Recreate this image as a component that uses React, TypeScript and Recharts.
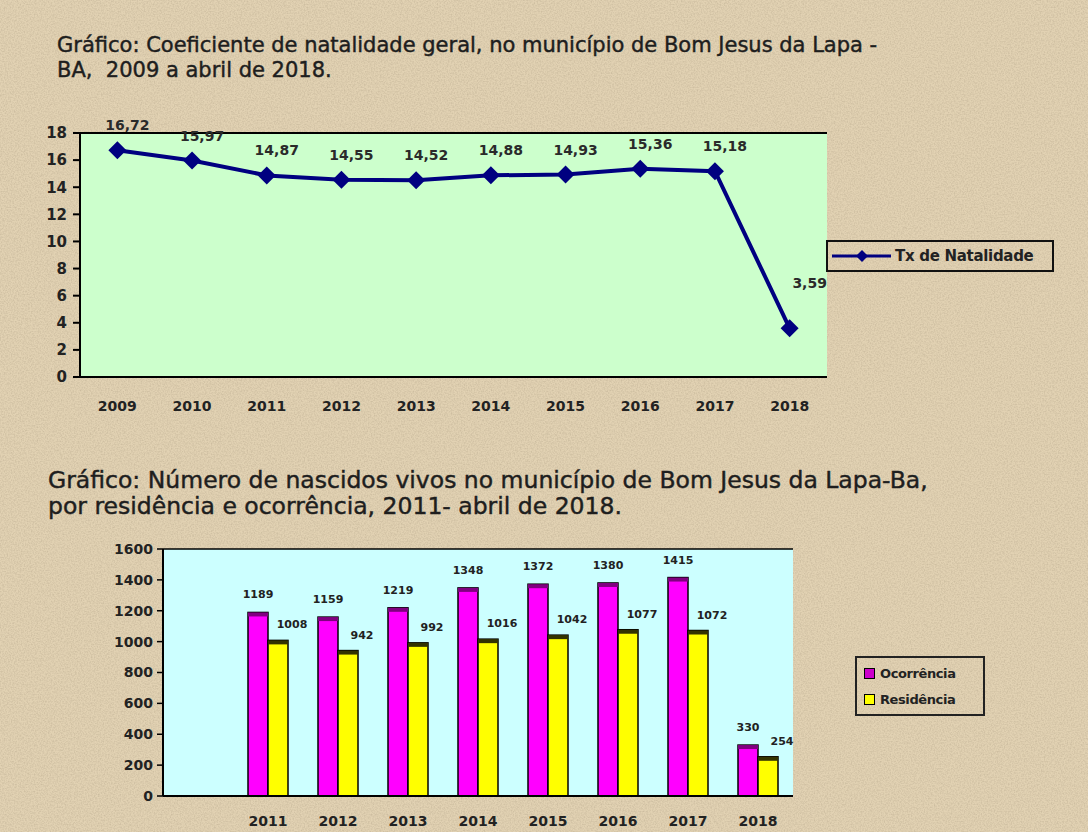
import React from "react";
import {
  Bar,
  BarChart,
  CartesianGrid,
  LabelList,
  Line,
  LineChart,
  XAxis,
  YAxis,
} from "recharts";

// Coeficiente de natalidade (top chart)
const YEARS_TOP = ["2009", "2010", "2011", "2012", "2013", "2014", "2015", "2016", "2017", "2018"];
const TX_NATALIDADE = [16.72, 15.97, 14.87, 14.55, 14.52, 14.88, 14.93, 15.36, 15.18, 3.59];
const TOP_TICKS = [0, 2, 4, 6, 8, 10, 12, 14, 16, 18];

// Nascidos vivos (bottom chart) - first slot is an empty category, as in the original
const YEARS_BOTTOM = ["", "2011", "2012", "2013", "2014", "2015", "2016", "2017", "2018"];
const OCORRENCIA = [null, 1189, 1159, 1219, 1348, 1372, 1380, 1415, 330];
const RESIDENCIA = [null, 1008, 942, 992, 1016, 1042, 1077, 1072, 254];
const BOTTOM_TICKS = [0, 200, 400, 600, 800, 1000, 1200, 1400, 1600];

const FONT = "'DejaVu Sans', Verdana, sans-serif";
const NAVY = "#000080";

const topData = YEARS_TOP.map((year, i) => ({ year, tx: TX_NATALIDADE[i] }));
const bottomData = YEARS_BOTTOM.map((year, i) => ({
  year,
  ocorrencia: OCORRENCIA[i],
  residencia: RESIDENCIA[i],
}));

const fmtComma = (v: number) => v.toFixed(2).replace(".", ",");

function Diamond(props: any) {
  const { cx, cy, index } = props;
  if (cx == null || cy == null) return null;
  const r = 9;
  return (
    <path
      key={`d-${index}`}
      d={`M${cx},${cy - r}L${cx + r},${cy}L${cx},${cy + r}L${cx - r},${cy}Z`}
      fill={NAVY}
    />
  );
}

function lineLabel(props: any) {
  const { x, y, value, index } = props;
  const last = index === TX_NATALIDADE.length - 1;
  return (
    <text
      x={x + (last ? 20 : 10)}
      y={y - (last ? 44 : 24)}
      textAnchor="middle"
      dominantBaseline="middle"
      fontSize={14}
      fontWeight="bold"
      fontFamily={FONT}
      fill="#2a2a2a"
    >
      {fmtComma(value)}
    </text>
  );
}

function bar3d(cap: string) {
  return (p: any) => {
    const { x, y, width, height, fill } = p;
    if (!height || height <= 0) return <g />;
    return (
      <g>
        <rect x={x} y={y} width={width} height={height} fill={fill} stroke="#000" strokeWidth={1.5} />
        <rect x={x} y={y} width={width} height={4} fill={cap} />
      </g>
    );
  };
}

const titleStyle = {
  position: "absolute" as const,
  color: "#1e1e1e",
  WebkitTextStroke: "0.45px #1e1e1e",
};

export default function App() {
  return (
    <div
      style={{
        position: "absolute",
        left: 0,
        top: 0,
        width: 1088,
        height: 832,
        overflow: "hidden",
        background: "#e2d2b3",
        fontFamily: FONT,
      }}
    >
      {/* paper texture */}
      <svg width={1088} height={832} style={{ position: "absolute", left: 0, top: 0 }}>
        <filter id="paper">
          <feTurbulence type="fractalNoise" baseFrequency="0.7" numOctaves={3} seed={3} />
          <feColorMatrix
            type="matrix"
            values="0 0 0 0 0.45  0 0 0 0 0.37  0 0 0 0 0.25  0 0 0 -1.6 1.05"
          />
        </filter>
        <rect width={1088} height={832} filter="url(#paper)" opacity={0.5} />
      </svg>

      <div style={{ ...titleStyle, left: 57, top: 33, fontSize: 21, lineHeight: "25px" }}>
        Gráfico: Coeficiente de natalidade geral, no município de Bom Jesus da Lapa -
        <br />
        BA,&nbsp; 2009 a abril de 2018.
      </div>

      <div style={{ position: "absolute", left: 0, top: 0 }}>
        <LineChart
          width={1088}
          height={430}
          data={topData}
          margin={{ top: 133, right: 261, left: 30, bottom: 18 }}
        >
          <CartesianGrid vertical={false} stroke="#000" strokeWidth={2} fill="#ccffcc" fillOpacity={1} />
          <XAxis
            dataKey="year"
            scale="band"
            height={35}
            tickLine={false}
            axisLine={{ stroke: "#000", strokeWidth: 2 }}
            tickMargin={18}
            tick={{ fontSize: 14, fontWeight: "bold", fill: "#222", fontFamily: FONT }}
            interval={0}
          />
          <YAxis
            yAxisId="left"
            width={50}
            domain={[0, 18]}
            ticks={TOP_TICKS}
            interval={0}
            tickSize={7}
            tickMargin={6}
            axisLine={{ stroke: "#000", strokeWidth: 2 }}
            tickLine={{ stroke: "#000", strokeWidth: 2 }}
            tick={{ fontSize: 15, fontWeight: "bold", fill: "#222", fontFamily: FONT }}
          />
          <YAxis
            yAxisId="right"
            orientation="right"
            width={0}
            domain={[0, 18]}
            tick={false}
            tickLine={false}
            axisLine={{ stroke: "#777", strokeWidth: 1 }}
          />
          <Line
            yAxisId="left"
            dataKey="tx"
            stroke={NAVY}
            strokeWidth={4}
            dot={Diamond}
            activeDot={false}
            isAnimationActive={false}
          >
            <LabelList dataKey="tx" content={lineLabel} />
          </Line>
        </LineChart>
      </div>

      {/* legend, top chart */}
      <div
        style={{
          position: "absolute",
          left: 826,
          top: 240,
          width: 224,
          height: 28,
          border: "2px solid #111",
          display: "flex",
          alignItems: "center",
          fontSize: 15,
          fontWeight: "bold",
          color: "#222",
          letterSpacing: -0.3,
        }}
      >
        <svg width={62} height={20} style={{ marginLeft: 3 }}>
          <line x1={1} y1={10} x2={60} y2={10} stroke={NAVY} strokeWidth={3} />
          <path d="M31,4L37,10L31,16L25,10Z" fill={NAVY} />
        </svg>
        <span style={{ marginLeft: 2 }}>Tx de Natalidade</span>
      </div>

      <div style={{ ...titleStyle, left: 48, top: 467, fontSize: 23.5, lineHeight: "26px" }}>
        Gráfico: Número de nascidos vivos no município de Bom Jesus da Lapa-Ba,
        <br />
        por residência e ocorrência, 2011- abril de 2018.
      </div>

      <div style={{ position: "absolute", left: 0, top: 450 }}>
        <BarChart
          width={1088}
          height={382}
          data={bottomData}
          margin={{ top: 99, right: 295, left: 103, bottom: 6 }}
          barGap={0}
          barSize={20}
        >
          <CartesianGrid vertical={false} stroke="#000" strokeWidth={1.5} fill="#ccffff" fillOpacity={1} />
          <XAxis
            dataKey="year"
            height={30}
            tickLine={false}
            axisLine={{ stroke: "#000", strokeWidth: 2 }}
            tickMargin={14}
            tick={{ fontSize: 14, fontWeight: "bold", fill: "#222", fontFamily: FONT }}
            interval={0}
          />
          <YAxis
            yAxisId="left"
            width={60}
            domain={[0, 1600]}
            ticks={BOTTOM_TICKS}
            interval={0}
            tickSize={6}
            tickMargin={4}
            axisLine={{ stroke: "#000", strokeWidth: 2 }}
            tickLine={{ stroke: "#000", strokeWidth: 1.5 }}
            tick={{ fontSize: 14, fontWeight: "bold", fill: "#222", fontFamily: FONT }}
          />
          <YAxis
            yAxisId="right"
            orientation="right"
            width={0}
            domain={[0, 1600]}
            tick={false}
            tickLine={false}
            axisLine={{ stroke: "#888", strokeWidth: 1.5 }}
          />
          <Bar
            yAxisId="left"
            dataKey="ocorrencia"
            fill="#ff00ff"
            shape={bar3d("#800080")}
            isAnimationActive={false}
          >
            <LabelList
              dataKey="ocorrencia"
              position="top"
              offset={14}
              formatter={(v: any) => (v == null ? "" : String(v))}
              style={{ fontSize: 11, fontWeight: "bold", fill: "#222", fontFamily: FONT }}
            />
          </Bar>
          <Bar
            yAxisId="left"
            dataKey="residencia"
            fill="#ffff00"
            shape={bar3d("#333300")}
            isAnimationActive={false}
          >
            <LabelList
              dataKey="residencia"
              position="top"
              offset={12}
              formatter={(v: any) => (v == null ? "" : String(v))}
              style={{ fontSize: 11, fontWeight: "bold", fill: "#222", fontFamily: FONT, transform: "translateX(14px)" }}
            />
          </Bar>
        </BarChart>
      </div>

      {/* legend, bottom chart */}
      <div
        style={{
          position: "absolute",
          left: 855,
          top: 656,
          width: 130,
          height: 60,
          border: "2px solid #222",
          fontSize: 13,
          fontWeight: "bold",
          letterSpacing: -0.4,
          color: "#222",
          display: "flex",
          flexDirection: "column",
          justifyContent: "center",
          gap: 11,
          paddingLeft: 7,
          boxSizing: "border-box",
        }}
      >
        <div style={{ display: "flex", alignItems: "center" }}>
          <span style={{ width: 9, height: 9, background: "#cc00cc", border: "1px solid #000", marginRight: 5 }} />
          Ocorrência
        </div>
        <div style={{ display: "flex", alignItems: "center" }}>
          <span style={{ width: 9, height: 9, background: "#ffff00", border: "1px solid #000", marginRight: 5 }} />
          Residência
        </div>
      </div>
    </div>
  );
}
